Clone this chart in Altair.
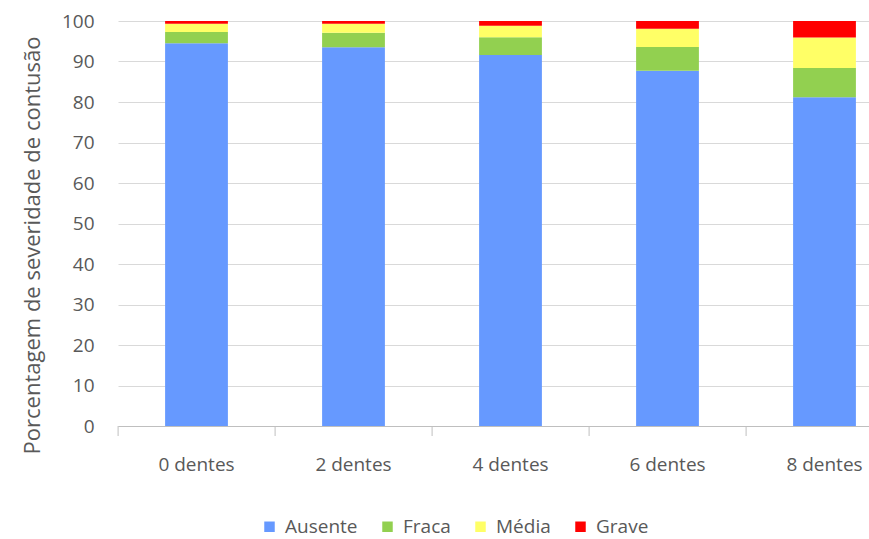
import altair as alt
import pandas as pd

# Stacked severity shares per treatment
categories = ["0 dentes", "2 dentes", "4 dentes", "6 dentes", "8 dentes"]
levels = ["Ausente", "Fraca", "Média", "Grave"]
colors = ["#6699FF", "#92D050", "#FFFF66", "#FF0000"]
ausente = [94.5, 93.5, 91.6, 87.7, 81.2]
fraca = [2.8, 3.6, 4.4, 5.9, 7.2]
media = [2.0, 2.2, 2.8, 4.5, 7.5]
grave = [0.7, 0.7, 1.2, 1.9, 4.1]

rows = []
for series, vals in zip(levels, [ausente, fraca, media, grave]):
    for c, v in zip(categories, vals):
        rows.append({"dentes": c, "nivel": series, "valor": v, "ordem": levels.index(series)})
df = pd.DataFrame(rows)

FONT = "Open Sans"
GRAY = "#595959"

x_scale = alt.Scale(domain=categories, range=[0, 785], paddingInner=0.6, paddingOuter=0.3)

bars = alt.Chart(df).mark_bar().encode(
    x=alt.X("dentes:N", scale=x_scale, sort=categories,
            axis=alt.Axis(title=None, labelAngle=0, ticks=False, domain=True,
                          domainColor="#BFBFBF", labelFontSize=19, labelFont=FONT,
                          labelColor=GRAY, labelPadding=29, grid=False)),
    y=alt.Y("valor:Q", stack="zero",
            scale=alt.Scale(domain=[0, 100], nice=False),
            axis=alt.Axis(title="Porcentagem de severidade de contusão", values=list(range(0, 101, 10)),
                          ticks=False, domain=False, gridColor="#D9D9D9", gridWidth=1.2,
                          labelFontSize=19, labelFont=FONT, labelColor=GRAY, labelPadding=24,
                          titleFont=FONT, titleFontSize=22, titleFontWeight="normal",
                          titleColor=GRAY, titlePadding=17, titleY=224)),
    color=alt.Color("nivel:N", scale=alt.Scale(domain=levels, range=colors),
                    legend=alt.Legend(title=None, orient="none", direction="horizontal",
                                      legendX=142, legendY=496, symbolType="square",
                                      symbolSize=110, symbolStrokeWidth=0,
                                      labelFont=FONT, labelFontSize=19, labelColor=GRAY,
                                      columnPadding=20, symbolOffset=0, labelOffset=6)),
    order=alt.Order("ordem:Q"),
)

# Category separator ticks below the baseline
sep = pd.DataFrame({"dentes": categories})
ticks = alt.Chart(sep).mark_rule(color="#BFBFBF", xOffset=-47).encode(
    x=alt.X("dentes:N", scale=x_scale, sort=categories, bandPosition=0),
    y=alt.value(405),
    y2=alt.value(415),
)

chart = alt.layer(bars, ticks).properties(
    width=751, height=405,
    autosize=alt.AutoSizeParams(type="none"),
    padding={"left": 118, "top": 21, "right": 0, "bottom": 113},
).configure_view(stroke=None)

chart.save("out.html", embed_options={"renderer": "svg", "actions": False})
